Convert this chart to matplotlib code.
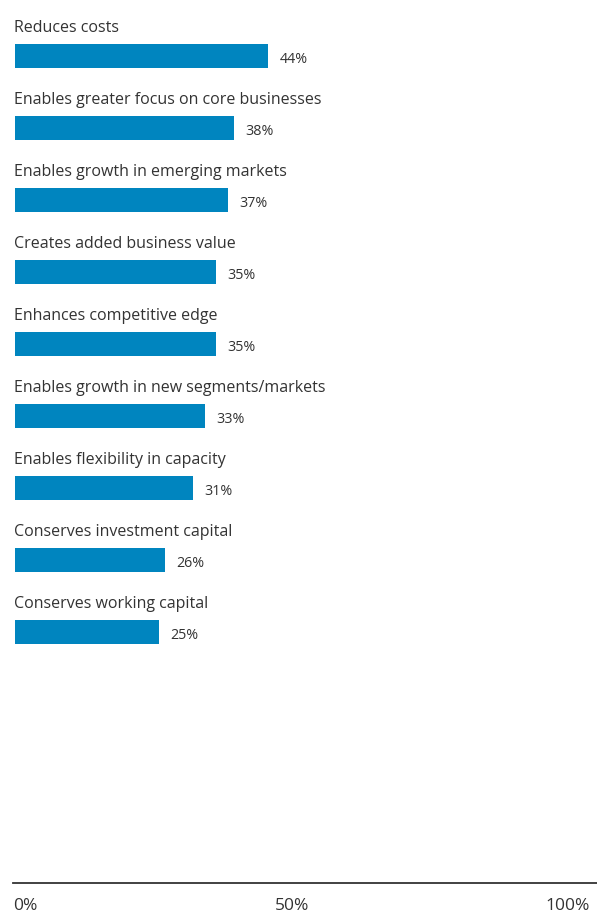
import matplotlib.pyplot as plt

categories = [
    "Reduces costs",
    "Enables greater focus on core businesses",
    "Enables growth in emerging markets",
    "Creates added business value",
    "Enhances competitive edge",
    "Enables growth in new segments/markets",
    "Enables flexibility in capacity",
    "Conserves investment capital",
    "Conserves working capital",
]
values = [44, 38, 37, 35, 35, 33, 31, 26, 25]
tick_values = [0, 48.2, 100]
tick_labels = ["0%", "50%", "100%"]

bar_color = "#0085BF"
text_color = "#333333"
plt.rcParams['font.family'] = ['Open Sans', 'DejaVu Sans']

fig = plt.figure(figsize=(5.97, 9.2), dpi=100)
ax = fig.add_axes([15 / 597, 36 / 920, 575 / 597, 884 / 920])

for i, (cat, val) in enumerate(zip(categories, values)):
    ax.barh(i, val, height=0.33, color=bar_color)
    ax.text(-0.2, i - 0.40, cat, fontsize=11.5, color=text_color, va='center', ha='left')
    ax.text(val + 2.0, i + 0.04, f"{val}%", fontsize=10.3, color=text_color, va='center', ha='left')

ax.set_xlim(0, 100)
ax.set_ylim(11.486, -0.792)
ax.axis('off')

# baseline axis
ax.plot([-0.35, 101.2], [11.486, 11.486], color=text_color, lw=1.3, clip_on=False)
for v, lab in zip(tick_values, tick_labels):
    ha = 'left' if v == 0 else ('right' if v == 100 else 'center')
    ax.text(v - 0.3 if v == 0 else v, 11.486 + 0.30, lab, fontsize=12.5, color=text_color, ha=ha, va='center')

fig.savefig("out.png", dpi=100)
